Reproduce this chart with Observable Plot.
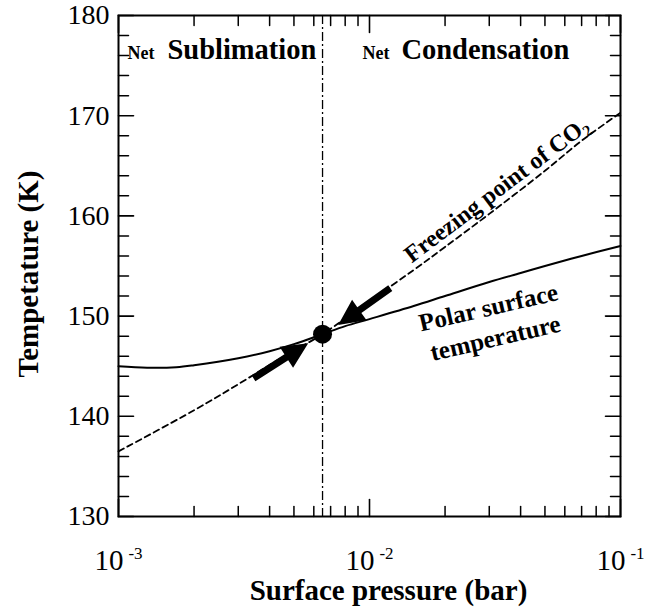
<!DOCTYPE html>
<html><head><meta charset="utf-8">
<script src="https://cdn.jsdelivr.net/npm/d3@7"></script>
<script src="https://cdn.jsdelivr.net/npm/@observablehq/plot@0.6"></script>
<style>body{margin:0;background:#fff} #chart svg{display:block}</style>
</head><body><div id="chart"></div>
<script>
// ---- data ----
const surfaceP = [0.001, 0.0013, 0.0017, 0.002, 0.003, 0.004, 0.005, 0.0065, 0.008, 0.01, 0.015, 0.02, 0.03, 0.04, 0.05, 0.07, 0.1];
const surfaceT = [145.0, 144.85, 144.9, 145.1, 145.8, 146.5, 147.2, 148.2, 149.0, 149.7, 151.0, 152.0, 153.4, 154.3, 155.0, 156.0, 157.0];
const frostP = [0.001, 0.002, 0.003, 0.0045, 0.0065, 0.01, 0.015, 0.02, 0.03, 0.05, 0.07, 0.1];
const frostT = [136.5, 140.6, 143.2, 145.9, 148.2, 151.5, 154.6, 156.9, 160.2, 164.5, 167.5, 170.3];
const transitionP = 0.0065;
const transitionT = 148.2;
const arrowStartP = [0.00345, 0.0121];
const arrowStartT = [143.8, 152.8];
const arrowTipP = [0.0057, 0.0075];
const arrowTipT = [147.3, 149.1];
const xDomain = [0.001, 0.1];
const yDomain = [130, 180];
const xMajor = [0.001, 0.01, 0.1];
const xMinor = [0.002,0.003,0.004,0.005,0.006,0.007,0.008,0.009,0.02,0.03,0.04,0.05,0.06,0.07,0.08,0.09];
const yMajor = [130, 140, 150, 160, 170, 180];
const yMinor = [132,134,136,138,142,144,146,148,152,154,156,158,162,164,166,168,172,174,176,178];
const xTitle = "Surface pressure (bar)";
const yTitle = "Tempetature (K)";
const labels = [
  {p: 0.001086, T: 176.2, text: "Net", size: 18},
  {p: 0.001567, T: 176.55, text: "Sublimation", size: 28.5},
  {p: 0.00937, T: 176.2, text: "Net", size: 18},
  {p: 0.0134, T: 176.55, text: "Condensation", size: 28.5}
];
const frostLabel = {p: 0.0321, T: 162.6, text: "Freezing point of CO2"};
const surfaceLabel = {p: 0.0306, T: 149.5, text: "Polar surface\ntemperature"};

// ---- layout / style ----
const W = 666, H = 608;
const M = {top: 15, right: 46, bottom: 92, left: 118};
const ink = "black";
const font = "'Liberation Serif', 'Times New Roman', serif";

const surface = surfaceP.map((p, i) => ({p, T: surfaceT[i]}));
const frost = frostP.map((p, i) => ({p, T: frostT[i]}));

// a tick drawn as a vector pointing from the frame edge inward
const tickShape = {draw(ctx, l) { ctx.moveTo(0, 0); ctx.lineTo(0, -l); }};
function edgeTicks(values, axis, len, width) {
  const common = {length: len, anchor: "start", shape: tickShape, stroke: ink, strokeWidth: width, fill: "none"};
  if (axis === "x") return [
    Plot.vector(values, {...common, x: d => d, y: () => yDomain[0], rotate: 0}),
    Plot.vector(values, {...common, x: d => d, y: () => yDomain[1], rotate: 180})
  ];
  return [
    Plot.vector(values, {...common, y: d => d, x: () => xDomain[0], rotate: 90}),
    Plot.vector(values, {...common, y: d => d, x: () => xDomain[1], rotate: -90})
  ];
}

function baseMarks() {
  return [
    Plot.ruleX([transitionP], {stroke: ink, strokeWidth: 1.3, strokeDasharray: "9,3,2,3"}),
    Plot.line(frost, {x: "p", y: "T", stroke: ink, strokeWidth: 1.8, strokeDasharray: "6,4", curve: "catmull-rom"}),
    Plot.line(surface, {x: "p", y: "T", stroke: ink, strokeWidth: 2, curve: "catmull-rom"}),
    Plot.dot([{p: transitionP, T: transitionT}], {x: "p", y: "T", r: 9.5, fill: ink, stroke: "none"}),
    ...edgeTicks(xMajor, "x", 17, 1.6),
    ...edgeTicks(xMinor, "x", 10, 1.5),
    ...edgeTicks(yMajor, "y", 15, 1.6),
    ...edgeTicks(yMinor, "y", 10, 1.5),
    Plot.frame({stroke: ink, strokeWidth: 2}),
    Plot.axisX({ticks: xMajor, tickSize: 0, tickPadding: 33, fontSize: 29, fill: ink, label: null,
      tickFormat: d => "10^" + Math.round(Math.log10(d))}),
    Plot.axisY({ticks: yMajor, tickSize: 0, tickPadding: 9, fontSize: 28, fill: ink, label: null}),
    Plot.text([yTitle], {frameAnchor: "left", text: d => d, rotate: -90, dx: -90, dy: 8,
      textAnchor: "middle", lineAnchor: "middle", fontSize: 29, fontWeight: "bold", fill: ink}),
    Plot.text([xTitle], {frameAnchor: "bottom", text: d => d, dx: 19, dy: 74,
      textAnchor: "middle", lineAnchor: "middle", fontSize: 29, fontWeight: "bold", fill: ink}),
    ...labels.map(l => Plot.text([l], {x: "p", y: "T", text: "text", textAnchor: "start", lineAnchor: "middle",
      fontSize: l.size, fontWeight: "bold", fill: ink})),
    Plot.text([frostLabel], {x: "p", y: "T", text: "text", rotate: -37, textAnchor: "middle", lineAnchor: "middle",
      fontSize: 24, fontWeight: "bold", fill: ink}),
    Plot.text([surfaceLabel], {x: "p", y: "T", text: "text", rotate: -13, textAnchor: "middle", lineAnchor: "middle",
      fontSize: 25, lineHeight: 1.25, fontWeight: "bold", fill: ink})
  ];
}

const opts = {
  width: W, height: H,
  marginTop: M.top, marginRight: M.right, marginBottom: M.bottom, marginLeft: M.left,
  style: {fontFamily: font, background: "#fff", color: ink, overflow: "visible"},
  x: {type: "log", domain: xDomain},
  y: {domain: yDomain}
};

// first pass: obtain the scales to orient the arrows in screen space
const probe = Plot.plot({...opts, marks: baseMarks()});
const sx = probe.scale("x"), sy = probe.scale("y");

function arrowShape(headLen, headHalf, shaftHalf) {
  return {
    draw(ctx, l) {
      const b = l - headLen;
      ctx.moveTo(-shaftHalf, 0);
      ctx.lineTo(-shaftHalf, -b);
      ctx.lineTo(-headHalf, -b);
      ctx.lineTo(0, -l);
      ctx.lineTo(headHalf, -b);
      ctx.lineTo(shaftHalf, -b);
      ctx.lineTo(shaftHalf, 0);
      ctx.closePath();
    }
  };
}
const arrowMarks = arrowStartP.map((p, i) => {
  const x1 = sx.apply(p), y1 = sy.apply(arrowStartT[i]);
  const x2 = sx.apply(arrowTipP[i]), y2 = sy.apply(arrowTipT[i]);
  const len = Math.hypot(x2 - x1, y2 - y1);
  const rot = Math.atan2(x2 - x1, -(y2 - y1)) * 180 / Math.PI;
  return Plot.vector([{p, T: arrowStartT[i], rot}], {
    x: "p", y: "T", rotate: "rot", length: len, anchor: "start",
    shape: arrowShape(26, 12.5, 3.5), fill: ink, stroke: "none"
  });
});

const svg = Plot.plot({...opts, marks: [...baseMarks(), ...arrowMarks]});

// superscripts / subscripts as real tspans
d3.select(svg).selectAll("text").each(function () {
  const s = this.textContent;
  const m = /^10\^(-?\d+)$/.exec(s);
  if (m) {
    const t = d3.select(this);
    t.text(null);
    t.append("tspan").text("10");
    t.append("tspan").attr("dx", 5).attr("dy", -11).attr("font-size", 17).text(m[1]);
  } else if (s === "Freezing point of CO2") {
    const t = d3.select(this);
    t.text(null);
    t.append("tspan").text("Freezing point of CO");
    t.append("tspan").attr("dy", 5).attr("font-size", 16).text("2");
  }
});

document.getElementById("chart").appendChild(svg);
</script>
</body></html>
